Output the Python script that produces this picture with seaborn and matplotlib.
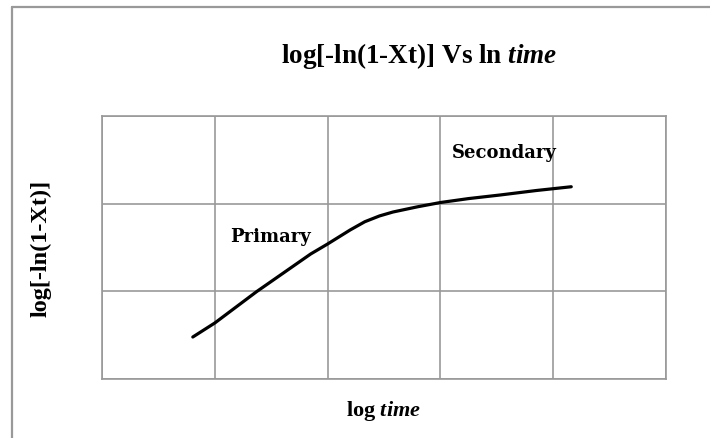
import matplotlib
matplotlib.use("Agg")
import matplotlib.pyplot as plt
from matplotlib.lines import Line2D
import seaborn as sns
import pandas as pd

# Transformed kinetics curve: log time vs log[-ln(1-Xt)]
log_time = [0.805, 1.00, 1.37, 1.85, 2.00, 2.20, 2.33, 2.46, 2.58, 2.80, 3.00, 3.25, 3.53, 3.85, 4.16]
log_ln = [0.479, 0.639, 0.996, 1.426, 1.540, 1.700, 1.794, 1.860, 1.905, 1.965, 2.013, 2.058, 2.099, 2.150, 2.193]

x_ticks = [0, 1, 2, 3, 4, 5]
y_ticks = [0, 1, 2, 3]

region_labels = ["Primary", "Secondary"]
region_x = [1.49, 3.57]
region_y = [1.63, 2.59]

df = pd.DataFrame({"log_time": log_time, "log_ln": log_ln})

sns.set_theme(style="white")
plt.rcParams["font.family"] = ["Liberation Serif", "DejaVu Serif"]
plt.rcParams["text.color"] = "black"
plt.rcParams["axes.labelcolor"] = "black"
plt.rcParams["mathtext.fontset"] = "custom"
plt.rcParams["mathtext.rm"] = "Liberation Serif:bold"
plt.rcParams["mathtext.it"] = "Liberation Serif:italic:bold"

fig = plt.figure(figsize=(7.10, 4.39), dpi=100)
ax = fig.add_axes([102 / 710, 1 - 380 / 439, 564 / 710, 263 / 439])

sns.lineplot(data=df, x="log_time", y="log_ln", ax=ax, color="black",
             linewidth=2.3, solid_capstyle="round", solid_joinstyle="round", sort=False)

ax.set_xlim(x_ticks[0], x_ticks[-1])
ax.set_ylim(y_ticks[0], y_ticks[-1])
ax.set_xticks(x_ticks)
ax.set_yticks(y_ticks)
ax.tick_params(length=0, labelbottom=False, labelleft=False)
ax.grid(True, color="#999999", linewidth=1.2)
for sp in ax.spines.values():
    sp.set_color("#999999")
    sp.set_linewidth(1.2)

ax.set_xlabel(r"log $\mathit{time}$", fontsize=16, fontweight="bold", labelpad=14)
ax.set_ylabel("log[-ln(1-Xt)]", fontsize=17.5, fontweight="bold", labelpad=36)

fig.text(419 / 710, 1 - 56 / 439, r"log[-ln(1-Xt)] Vs ln $\mathit{time}$",
         fontsize=19.5, fontweight="bold", ha="center", va="center")

for lab, lx, ly in zip(region_labels, region_x, region_y):
    ax.text(lx, ly, lab, fontsize=13, fontweight="bold", family="DejaVu Serif",
            ha="center", va="center")

# Outer frame (left and top edges)
fig.add_artist(Line2D([12 / 710, 12 / 710], [0, 1 - 8 / 439], transform=fig.transFigure,
                      color="#999999", linewidth=1.6))
fig.add_artist(Line2D([12 / 710, 1], [1 - 8 / 439, 1 - 8 / 439], transform=fig.transFigure,
                      color="#999999", linewidth=1.6))

fig.savefig("out.png", dpi=100)
